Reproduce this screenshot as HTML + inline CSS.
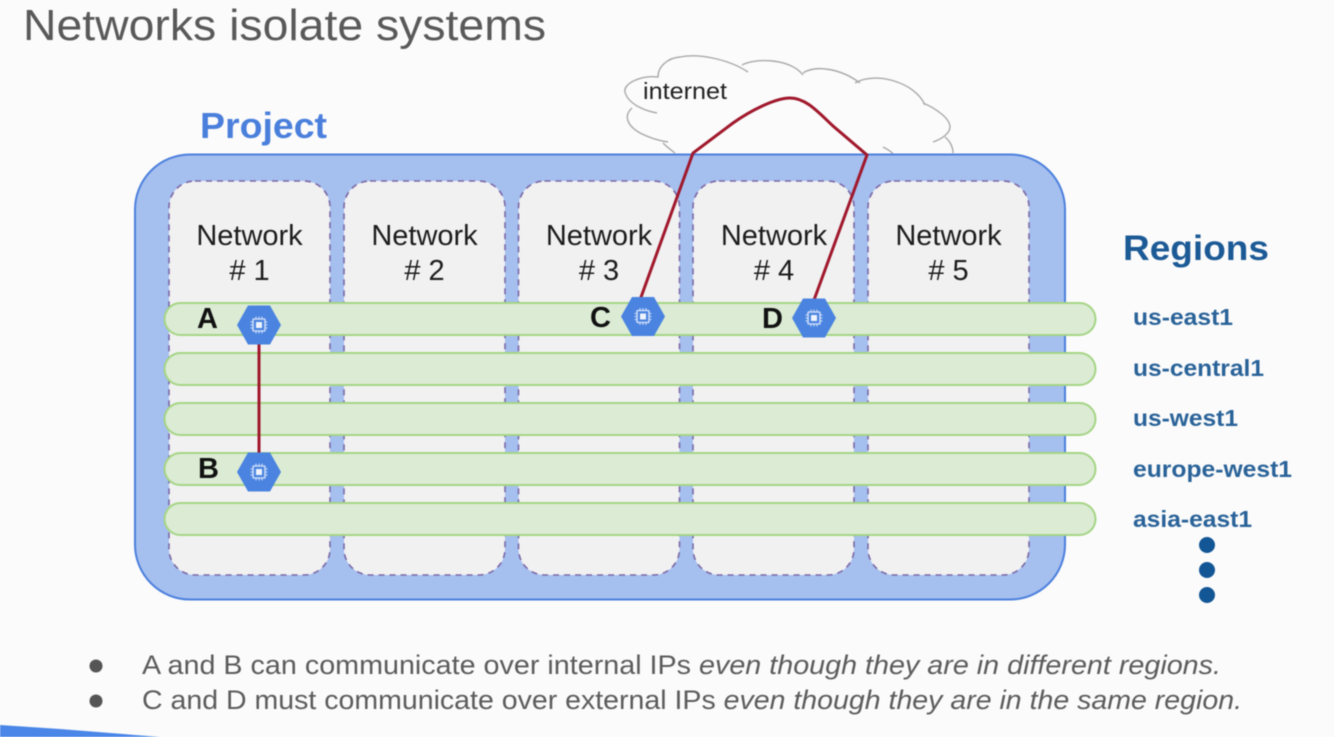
<!DOCTYPE html>
<html>
<head>
<meta charset="utf-8">
<style>
html,body{margin:0;padding:0;background:#fbfbfb;width:1334px;height:737px;overflow:hidden}
svg{display:block;font-family:"Liberation Sans",sans-serif;filter:blur(0.4px)}
</style>
</head>
<body>
<svg width="1334" height="737" viewBox="0 0 1334 737">
<defs>
<g id="vm">
<polygon points="-22,0 -11,-19.5 11,-19.5 22,0 11,19.5 -11,19.5" fill="#4a84e0"/>
<rect x="-6" y="-6" width="12" height="12" rx="1" fill="none" stroke="#c9daf8" stroke-width="1.6"/>
<rect x="-3" y="-3" width="6" height="6" fill="#eef3fc"/>
<path d="M-3-8.500v2M0-8.500v2M3-8.500v2M-3 6.500v2M0 6.500v2M3 6.500v2M-8.500-3h2M-8.500 0h2M-8.500 3h2M6.500-3h2M6.500 0h2M6.500 3h2" stroke="#c9daf8" stroke-width="1"/>
</g>
</defs>
<rect width="1334" height="737" fill="#fbfbfb"/>
<polygon points="0,725 60,729 160,737 0,737" fill="#4a86e8"/>
<text x="23" y="40" font-size="44" fill="#595959" textLength="523" lengthAdjust="spacingAndGlyphs">Networks isolate systems</text>

<!-- cloud -->
<path d="M657,113C645,111 628,104 625,92C623,84 640,75 658,77C658,66 668,58 680,57C700,53 730,60 748,72M742,65C755,58 790,58 803,75M803,73C815,65 840,68 860,83M855,83C875,71 915,82 925,105M923,103C935,108 950,118 950,127C950,133 942,139 933,142M945,137C950,141 953,147 953,153M632,108C624,115 626,125 640,133C650,138 660,141 668,142M663,143C667,147 671,150 675,153M883,147C887,149 891,151 893,154" fill="none" stroke="#a9a9a9" stroke-width="1.4"/>
<text x="643" y="99" font-size="23" fill="#222" textLength="84" lengthAdjust="spacingAndGlyphs">internet</text>

<text x="200" y="138" font-size="36" font-weight="bold" fill="#4a7fdc" textLength="127" lengthAdjust="spacingAndGlyphs">Project</text>

<!-- project -->
<rect x="135" y="154.500" width="930" height="445" rx="55" ry="55" fill="#a5bfef" stroke="#4d80dd" stroke-width="2"/>

<!-- networks -->
<g fill="#f1f1f1" stroke="#7a68a6" stroke-width="1.6" stroke-dasharray="6 5">
<rect x="169" y="181" width="161" height="394" rx="26"/>
<rect x="344" y="181" width="161" height="394" rx="26"/>
<rect x="518.500" y="181" width="161" height="394" rx="26"/>
<rect x="693" y="181" width="161" height="394" rx="26"/>
<rect x="868" y="181" width="161" height="394" rx="26"/>
</g>
<g font-size="29" fill="#1c1c1c" text-anchor="middle">
<text x="249.500" y="245">Network</text><text x="249.500" y="280"># 1</text>
<text x="424.500" y="245">Network</text><text x="424.500" y="280"># 2</text>
<text x="599" y="245">Network</text><text x="599" y="280"># 3</text>
<text x="774" y="245">Network</text><text x="774" y="280"># 4</text>
<text x="948.500" y="245">Network</text><text x="948.500" y="280"># 5</text>
</g>

<!-- regions bars -->
<g fill="#dbebd4" stroke="#a5d585" stroke-width="2">
<rect x="164.500" y="303" width="931" height="32" rx="16"/>
<rect x="164.500" y="353" width="931" height="32" rx="16"/>
<rect x="164.500" y="403" width="931" height="32" rx="16"/>
<rect x="164.500" y="453" width="931" height="32" rx="16"/>
<rect x="164.500" y="503" width="931" height="32" rx="16"/>
</g>

<!-- links -->
<g fill="none" stroke="#a0182c" stroke-width="3">
<path d="M259,340V456"/>
<path d="M640,300L693,153L733,123C750,111 775,98 790,98C806,98 818,112 833,126L867,155L814,300"/>
</g>

<use href="#vm" x="259" y="325"/>
<use href="#vm" x="259" y="472"/>
<use href="#vm" x="643" y="316.500"/>
<use href="#vm" x="814" y="318"/>

<g font-size="29" font-weight="bold" fill="#111">
<text x="197" y="328">A</text>
<text x="198" y="478">B</text>
<text x="590" y="327">C</text>
<text x="762" y="328">D</text>
</g>

<text x="1123" y="260" font-size="35" font-weight="bold" fill="#1c5a96" textLength="146" lengthAdjust="spacingAndGlyphs">Regions</text>
<g font-size="23" font-weight="bold" fill="#2a6399">
<text x="1133" y="325" textLength="100" lengthAdjust="spacingAndGlyphs">us-east1</text>
<text x="1133" y="376" textLength="131" lengthAdjust="spacingAndGlyphs">us-central1</text>
<text x="1133" y="426" textLength="105" lengthAdjust="spacingAndGlyphs">us-west1</text>
<text x="1133" y="477" textLength="159" lengthAdjust="spacingAndGlyphs">europe-west1</text>
<text x="1133" y="527" textLength="119" lengthAdjust="spacingAndGlyphs">asia-east1</text>
</g>
<g fill="#125696">
<circle cx="1207" cy="545" r="8"/>
<circle cx="1207" cy="570" r="8"/>
<circle cx="1207" cy="595" r="8"/>
</g>

<circle cx="96" cy="666" r="6.500" fill="#555"/>
<circle cx="96" cy="701" r="6.500" fill="#555"/>
<g font-size="27" fill="#5c5c5c">
<text x="142" y="674" textLength="1079" lengthAdjust="spacingAndGlyphs">A and B can communicate over internal IPs <tspan font-style="italic">even though they are in different regions.</tspan></text>
<text x="142" y="709" textLength="1100" lengthAdjust="spacingAndGlyphs">C and D must communicate over external IPs <tspan font-style="italic">even though they are in the same region.</tspan></text>
</g>
</svg>
</body>
</html>
